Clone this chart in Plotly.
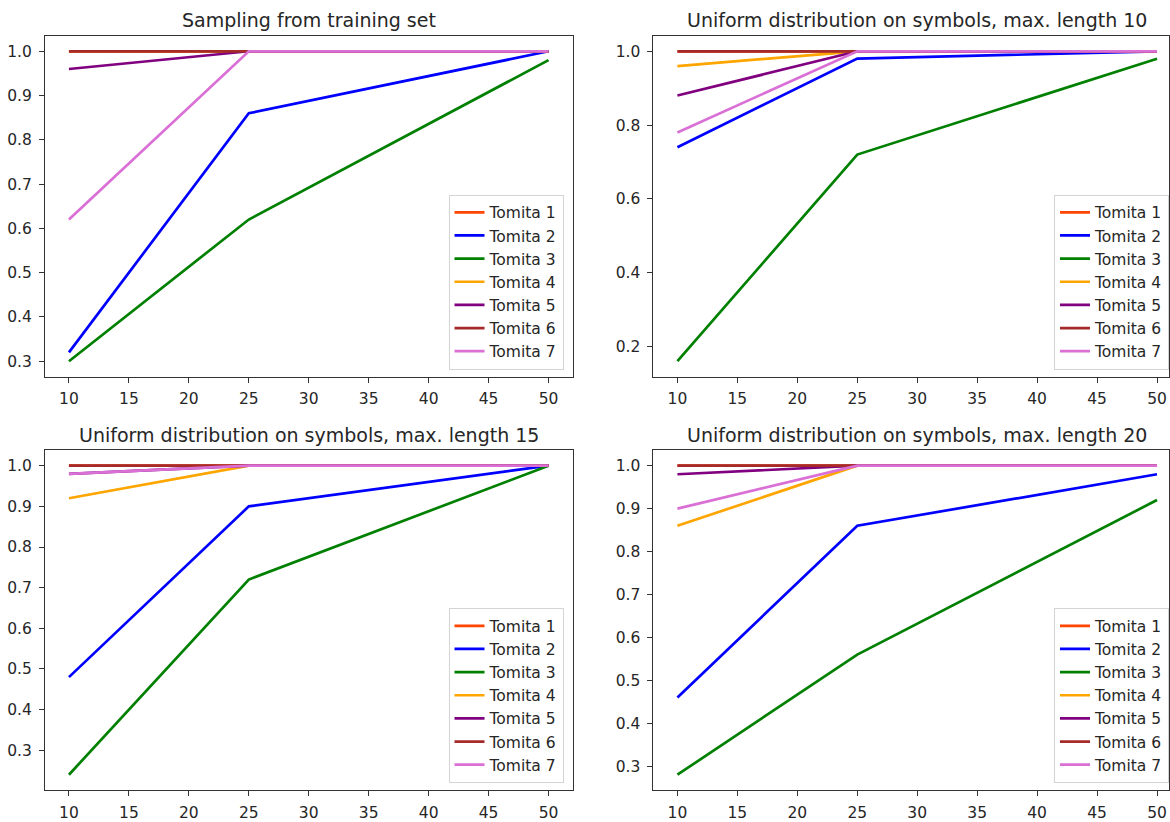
import plotly.graph_objects as go

# ---------------- data ----------------
x_sizes = [10, 25, 50]
series_names = ["Tomita 1", "Tomita 2", "Tomita 3", "Tomita 4", "Tomita 5", "Tomita 6", "Tomita 7"]
series_colors = ["#FF4500", "#0000FF", "#008000", "#FFA500", "#800080", "#A52A2A", "#DA70D6"]

titles = [
    "Sampling from training set",
    "Uniform distribution on symbols, max. length 10",
    "Uniform distribution on symbols, max. length 15",
    "Uniform distribution on symbols, max. length 20",
]

# panel 1: sampling from training set
p1_t1 = [1.00, 1.00, 1.00]
p1_t2 = [0.32, 0.86, 1.00]
p1_t3 = [0.30, 0.62, 0.98]
p1_t4 = [1.00, 1.00, 1.00]
p1_t5 = [0.96, 1.00, 1.00]
p1_t6 = [1.00, 1.00, 1.00]
p1_t7 = [0.62, 1.00, 1.00]

# panel 2: uniform, max length 10
p2_t1 = [1.00, 1.00, 1.00]
p2_t2 = [0.74, 0.98, 1.00]
p2_t3 = [0.16, 0.72, 0.98]
p2_t4 = [0.96, 1.00, 1.00]
p2_t5 = [0.88, 1.00, 1.00]
p2_t6 = [1.00, 1.00, 1.00]
p2_t7 = [0.78, 1.00, 1.00]

# panel 3: uniform, max length 15
p3_t1 = [1.00, 1.00, 1.00]
p3_t2 = [0.48, 0.90, 1.00]
p3_t3 = [0.24, 0.72, 1.00]
p3_t4 = [0.92, 1.00, 1.00]
p3_t5 = [0.98, 1.00, 1.00]
p3_t6 = [1.00, 1.00, 1.00]
p3_t7 = [0.98, 1.00, 1.00]

# panel 4: uniform, max length 20
p4_t1 = [1.00, 1.00, 1.00]
p4_t2 = [0.46, 0.86, 0.98]
p4_t3 = [0.28, 0.56, 0.92]
p4_t4 = [0.86, 1.00, 1.00]
p4_t5 = [0.98, 1.00, 1.00]
p4_t6 = [1.00, 1.00, 1.00]
p4_t7 = [0.90, 1.00, 1.00]

panels = [
    [p1_t1, p1_t2, p1_t3, p1_t4, p1_t5, p1_t6, p1_t7],
    [p2_t1, p2_t2, p2_t3, p2_t4, p2_t5, p2_t6, p2_t7],
    [p3_t1, p3_t2, p3_t3, p3_t4, p3_t5, p3_t6, p3_t7],
    [p4_t1, p4_t2, p4_t3, p4_t4, p4_t5, p4_t6, p4_t7],
]

x_ticks = [10, 15, 20, 25, 30, 35, 40, 45, 50]
y_ticks_a = [0.3, 0.4, 0.5, 0.6, 0.7, 0.8, 0.9, 1.0]
y_ticks_b = [0.2, 0.4, 0.6, 0.8, 1.0]
panel_yticks = [y_ticks_a, y_ticks_b, y_ticks_a, y_ticks_a]

# ---------------- layout geometry ----------------
W, H = 1170, 822
FONT = "DejaVu Sans"
TXT = "#262626"
TICK_SIZE = 15.5
LEG_SIZE = 15.5
TITLE_SIZE = 19

x_doms = [[45 / W, 573 / W], [654 / W, 1.0]]
y_doms = [[1 - 379 / H, 1 - 36 / H], [1 - 795 / H, 1 - 453 / H]]
x_ranges = [[8, 52], [8, 8 + (W - 654) / 12.0]]
title_y = [1 - 20 / H, 1 - 438 / H]
title_x = [309 / W, 918 / W]
legend_x = [564 / W, 1.0]
legend_y = [1 - 372 / H, 1 - 788 / H]

fig = go.Figure()
layout = dict(
    width=W, height=H,
    margin=dict(l=0, r=0, t=0, b=0),
    paper_bgcolor="white", plot_bgcolor="white",
    font=dict(family=FONT, size=TICK_SIZE, color=TXT),
    annotations=[],
)

for k in range(4):
    row, col = divmod(k, 2)
    xa = "xaxis" if k == 0 else f"xaxis{k+1}"
    ya = "yaxis" if k == 0 else f"yaxis{k+1}"
    xref = "x" if k == 0 else f"x{k+1}"
    yref = "y" if k == 0 else f"y{k+1}"
    leg = "legend" if k == 0 else f"legend{k+1}"

    vals_all = [v for s in panels[k] for v in s]
    lo, hi = min(vals_all), max(vals_all)
    pad = (hi - lo) * 0.05

    for i, name in enumerate(series_names):
        fig.add_trace(go.Scatter(
            x=x_sizes, y=panels[k][i], mode="lines", name=name,
            line=dict(color=series_colors[i], width=2.7),
            xaxis=xref, yaxis=yref, legend=leg,
            legendgroup=f"{k}_{i}",
        ))

    axis_common = dict(
        showgrid=False, zeroline=False, showline=True, mirror=True,
        linecolor="#333333", linewidth=1,
        ticks="outside", ticklen=5, tickwidth=1, tickcolor="#333333",
        tickfont=dict(family=FONT, size=TICK_SIZE, color=TXT),
    )
    layout[xa] = dict(
        axis_common, domain=x_doms[col], range=x_ranges[col],
        tickvals=x_ticks, anchor=yref, ticklabelstandoff=3,
    )
    layout[ya] = dict(
        axis_common, domain=y_doms[row], range=[lo - pad, hi + pad],
        tickvals=panel_yticks[k], tickformat=".1f", anchor=xref,
        ticklabelstandoff=4,
    )
    layout[leg] = dict(
        x=legend_x[col], y=legend_y[row], xanchor="right", yanchor="bottom",
        xref="paper", yref="paper",
        bgcolor="rgba(255,255,255,0.8)", bordercolor="#d4d4d4", borderwidth=1,
        font=dict(family=FONT, size=LEG_SIZE, color=TXT),
        tracegroupgap=4, traceorder="normal",
    )
    layout["annotations"].append(dict(
        text=titles[k], x=title_x[col], y=title_y[row], xref="paper", yref="paper",
        xanchor="center", yanchor="middle", showarrow=False,
        font=dict(family=FONT, size=TITLE_SIZE, color=TXT),
    ))

fig.update_layout(**layout)
fig.write_html("out.html")
